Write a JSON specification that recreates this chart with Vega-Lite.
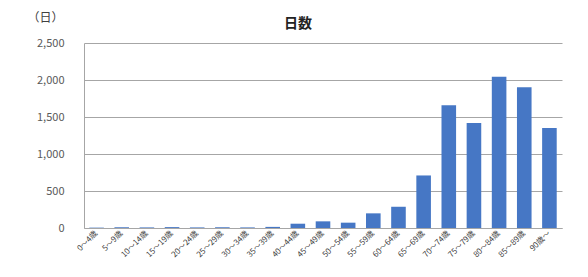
{
  "$schema": "https://vega.github.io/schema/vega-lite/v6.json",
  "width": 478,
  "height": 185,
  "autosize": {"type": "none"},
  "padding": {"left": 84, "top": 43, "right": 26, "bottom": 49},
  "background": "white",
  "title": {
    "text": "日数",
    "font": "Noto Sans CJK JP",
    "fontSize": 14,
    "fontWeight": "bold",
    "color": "#222222",
    "anchor": "middle",
    "baseline": "bottom",
    "dx": -25,
    "offset": -34
  },
  "data": {
    "values": [
      {"age": "0～4歳", "days": 5},
      {"age": "5～9歳", "days": 10},
      {"age": "10～14歳", "days": 8},
      {"age": "15～19歳", "days": 12},
      {"age": "20～24歳", "days": 8},
      {"age": "25～29歳", "days": 10},
      {"age": "30～34歳", "days": 8},
      {"age": "35～39歳", "days": 15},
      {"age": "40～44歳", "days": 58},
      {"age": "45～49歳", "days": 90},
      {"age": "50～54歳", "days": 72},
      {"age": "55～59歳", "days": 198},
      {"age": "60～64歳", "days": 287},
      {"age": "65～69歳", "days": 710},
      {"age": "70～74歳", "days": 1660},
      {"age": "75～79歳", "days": 1418},
      {"age": "80～84歳", "days": 2045},
      {"age": "85～89歳", "days": 1902},
      {"age": "90歳～", "days": 1350}
    ]
  },
  "mark": {"type": "bar", "color": "#4677c5", "width": {"band": 0.58}},
  "encoding": {
    "x": {
      "field": "age",
      "type": "nominal",
      "sort": null,
      "scale": {"paddingInner": 0, "paddingOuter": 0},
      "axis": {
        "title": null,
        "labelAngle": -45,
        "labelAlign": "right",
        "labelBaseline": "middle",
        "labelFontSize": 8,
        "labelColor": "#404040",
        "labelPadding": 4,
        "ticks": false,
        "domainColor": "#a6a6a6",
        "grid": false
      }
    },
    "y": {
      "field": "days",
      "type": "quantitative",
      "scale": {"domain": [0, 2500]},
      "axis": {
        "values": [0, 500, 1000, 1500, 2000, 2500],
        "format": ",.0f",
        "title": "（日）",
        "titleAngle": 0,
        "titleX": -39,
        "titleY": -26,
        "titleAlign": "center",
        "titleBaseline": "middle",
        "titleFontSize": 12,
        "titleFontWeight": "normal",
        "titleColor": "#404040",
        "labelFontSize": 11,
        "labelColor": "#595959",
        "labelPadding": 20,
        "ticks": false,
        "domainColor": "#a6a6a6",
        "gridColor": "#a6a6a6",
        "gridWidth": 1
      }
    }
  },
  "config": {
    "font": "Noto Sans CJK JP",
    "view": {"stroke": null}
  }
}
